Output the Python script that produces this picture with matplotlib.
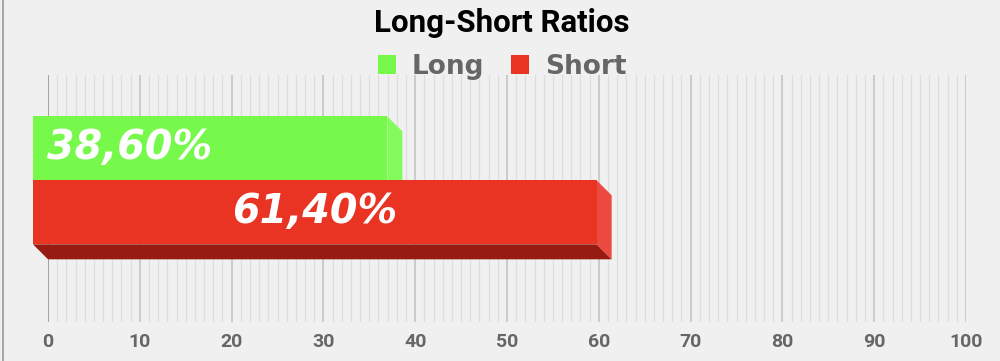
import matplotlib
matplotlib.use("Agg")
import matplotlib.pyplot as plt
import numpy as np
from matplotlib.patches import Polygon, Patch
from matplotlib.lines import Line2D

# Data
categories = ['Long', 'Short']
values = [38.60, 61.40]
labels = ['38,60%', '61,40%']
front_colors = ['#77f94c', '#e93323']
side_colors = ['#83fb5c', '#ec4a40']
bottom_colors = ['#5fc83c', '#981b12']

bg = '#f0f0f0'
fig = plt.figure(figsize=(10, 3.61), dpi=100, facecolor=bg)
ax = fig.add_axes([0.048, 0.108, 0.918, 0.684], facecolor=bg)

ax.set_xlim(0, 100)
ax.set_ylim(2.48, -1.38)

# depth of the 3D effect (15 px) in data units
dx = 15 / 9.18
dy = 15 / 64.0
h = 1.0

ax.set_xticks(np.arange(0, 101, 10))
ax.set_xticks(np.arange(0, 101, 1), minor=True)
ax.set_yticks([])
ax.grid(which='minor', axis='x', color='#dedede', lw=0.9, zorder=0)
ax.grid(which='major', axis='x', color='#c2c2c2', lw=1.1, zorder=0)
ax.axvline(0, color='#222222', lw=1.2, zorder=1)
for s in ax.spines.values():
    s.set_visible(False)
ax.tick_params(axis='x', which='both', length=0, pad=8)
for t in ax.get_xticklabels():
    t.set_fontfamily('Roboto')
    t.set_fontweight('bold')
    t.set_fontsize(14)
    t.set_color('#666666')

for i, v in enumerate(values):
    top = i - h / 2
    bot = i + h / 2
    # bottom face
    ax.add_patch(Polygon([(-dx, bot - dy), (v - dx, bot - dy), (v, bot), (0, bot)],
                         closed=True, fc=bottom_colors[i], ec='none', zorder=3 + i * 3, clip_on=False))
    # side face
    ax.add_patch(Polygon([(v - dx, top - dy), (v, top), (v, bot), (v - dx, bot - dy)],
                         closed=True, fc=side_colors[i], ec='none', zorder=4 + i * 3, clip_on=False))
    # front face
    b = ax.barh(i - dy, v, left=-dx, height=h, color=front_colors[i], zorder=5 + i * 3)
    b[0].set_clip_on(False)

# value labels
ax.text(-0.1, 0 - dy, labels[0], ha='left', va='center', color='white', fontsize=28.5,
        fontweight='bold', fontstyle='italic', family='DejaVu Sans', zorder=20)
ax.text(values[1] / 2 - dx, 1 - dy, labels[1], ha='center', va='center', color='white', fontsize=28.5,
        fontweight='bold', fontstyle='italic', family='DejaVu Sans', zorder=20)

# title and legend
fig.text(0.502, 0.936, 'Long-Short Ratios', ha='center', va='center', fontsize=22.5,
         fontweight='bold', family='Roboto', color='black')
handles = [Patch(fc=front_colors[0], ec='none'), Patch(fc=front_colors[1], ec='none')]
fig.legend(handles, categories, loc='center', bbox_to_anchor=(0.502, 0.815), ncol=2, frameon=False,
           prop={'family': 'DejaVu Sans', 'weight': 'bold', 'size': 19}, labelcolor='#666666',
           handlelength=0.7, handleheight=0.7, handletextpad=0.6, columnspacing=1.0)

# left border of the chart frame
fig.add_artist(Line2D([0.003, 0.003], [0, 1], transform=fig.transFigure, color='#9a9a9a', lw=1.2))

fig.savefig('out.png', dpi=100, facecolor=bg)
